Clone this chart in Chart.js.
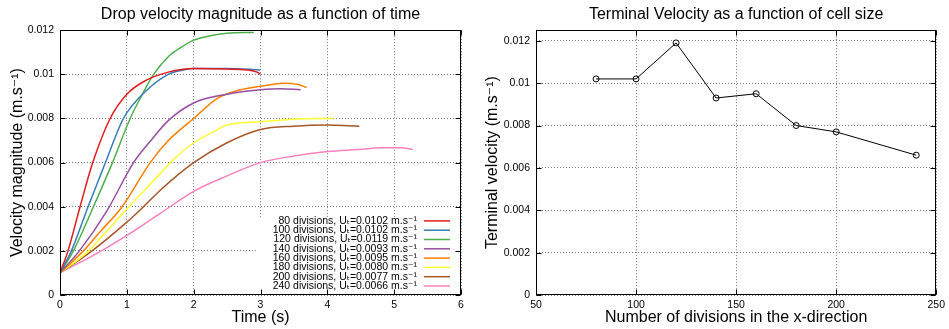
<!DOCTYPE html>
<html>
<head>
<meta charset="utf-8">
<script src="https://cdn.jsdelivr.net/npm/chart.js@4"></script>
<style>
  body { margin: 0; background: #fff; }
  .row { display: flex; width: 949px; height: 329px; }
</style>
</head>
<body>
<div class="row">
  <canvas id="left" width="475" height="329"></canvas>
  <canvas id="right" width="474" height="329"></canvas>
</div>
<script>
// series: number of divisions and the terminal velocity of each run
const divisions = [80, 100, 120, 140, 160, 180, 200, 240];
const terminal = [0.0102, 0.0102, 0.0119, 0.0093, 0.0095, 0.0080, 0.0077, 0.0066];
const colors = ['#e41a1c', '#377eb8', '#4daf4a', '#984ea3', '#ff7f00', '#ffff33', '#a65628', '#f781bf'];

// drop velocity against time
const t80 = [0, 0.12, 0.3, 0.49, 0.75, 1.0, 1.27, 1.62, 2.0, 2.5, 2.8, 2.95, 3.0];
const v80 = [0.001, 0.002, 0.004, 0.006, 0.008, 0.0091, 0.0097, 0.0101, 0.01026, 0.01024, 0.0102, 0.0101, 0.0100];
const t100 = [0, 0.17, 0.42, 0.68, 0.95, 1.27, 1.62, 1.85, 2.0, 2.5, 3.0];
const v100 = [0.001, 0.002, 0.004, 0.006, 0.008, 0.0092, 0.0100, 0.0102, 0.01026, 0.01027, 0.0102];
const t120 = [0, 0.2, 0.5, 0.785, 1.05, 1.25, 1.4, 1.62, 1.8, 2.0, 2.25, 2.5, 2.9];
const v120 = [0.001, 0.002, 0.004, 0.006, 0.008, 0.0092, 0.0100, 0.0108, 0.0112, 0.01155, 0.01175, 0.01186, 0.0119];
const t140 = [0, 0.29, 0.7, 1.1, 1.36, 1.62, 2.0, 2.5, 3.0, 3.3, 3.6];
const v140 = [0.001, 0.002, 0.0038, 0.006, 0.0070, 0.0079, 0.0087, 0.0091, 0.0093, 0.00935, 0.0093];
const t160 = [0, 0.35, 0.61, 0.93, 1.35, 1.62, 2.0, 2.35, 2.7, 3.0, 3.35, 3.55, 3.69];
const v160 = [0.001, 0.002, 0.0029, 0.004, 0.006, 0.0070, 0.008, 0.0089, 0.0093, 0.00946, 0.0096, 0.00955, 0.0094];
const t180 = [0, 0.43, 0.61, 1.03, 1.5, 1.65, 2.0, 2.3, 2.5, 3.0, 3.5, 4.09];
const v180 = [0.001, 0.002, 0.0026, 0.004, 0.0055, 0.006, 0.0069, 0.0074, 0.0077, 0.00785, 0.00797, 0.0080];
const t200 = [0, 0.48, 1.0, 1.25, 1.5, 2.0, 2.5, 3.0, 3.5, 4.0, 4.48];
const v200 = [0.001, 0.002, 0.0033, 0.004, 0.00475, 0.006, 0.0069, 0.0075, 0.00765, 0.0077, 0.00765];
const t240 = [0, 0.62, 1.0, 1.5, 2.0, 2.5, 3.0, 3.5, 4.0, 4.5, 4.8, 5.1, 5.28];
const v240 = [0.001, 0.002, 0.0027, 0.0037, 0.0047, 0.0054, 0.006, 0.0063, 0.0065, 0.0066, 0.00667, 0.00667, 0.0066];

const times = [t80, t100, t120, t140, t160, t180, t200, t240];
const speeds = [v80, v100, v120, v140, v160, v180, v200, v240];

const FONT = "'Liberation Sans', 'DejaVu Sans', sans-serif";

const legendLabels = divisions.map((d, i) => d + ' divisions, Uₜ=' + terminal[i].toFixed(4) + ' m.s⁻¹');

const fmt = v => String(+v.toFixed(4));

// gnuplot look: full border, inward ticks on all sides, optional key box
const frame = {
  id: 'frame',
  beforeDatasetsDraw(chart, args, opts) {
    if (!opts.key) return;
    const { ctx, chartArea: a, scales: { x, y } } = chart;
    ctx.save();
    ctx.fillStyle = '#fff';
    const left = x.getPixelForValue(2.93);
    const top = y.getPixelForValue(0.0035);
    ctx.fillRect(left, top, a.right - left, a.bottom - top);
    ctx.restore();
  },
  afterDraw(chart, args, opts) {
    const { ctx, chartArea: a, scales: { x, y } } = chart;
    ctx.save();
    ctx.strokeStyle = '#000';
    ctx.lineWidth = 1;
    const L = Math.round(a.left) + 0.5, R = Math.round(a.right) - 0.5;
    const T = Math.round(a.top) + 0.5, B = Math.round(a.bottom) - 0.5;
    ctx.strokeRect(L, T, R - L, B - T);
    ctx.beginPath();
    x.ticks.forEach(tk => {
      const px = Math.round(x.getPixelForValue(tk.value)) + 0.5;
      ctx.moveTo(px, B); ctx.lineTo(px, B - 5);
      ctx.moveTo(px, T); ctx.lineTo(px, T + 5);
    });
    y.ticks.forEach(tk => {
      const py = Math.round(y.getPixelForValue(tk.value)) + 0.5;
      ctx.moveTo(L, py); ctx.lineTo(L + 5, py);
      ctx.moveTo(R, py); ctx.lineTo(R - 5, py);
    });
    ctx.stroke();

    if (opts.key) {
      const rowH = 9.3;
      ctx.font = '10.5px ' + FONT;
      ctx.fillStyle = '#000';
      ctx.textAlign = 'right';
      ctx.textBaseline = 'middle';
      chart.data.datasets.forEach((ds, i) => {
        const cy = a.bottom - 9 - (chart.data.datasets.length - 1 - i) * rowH;
        ctx.fillText(ds.label, a.right - 44, cy);
        ctx.strokeStyle = ds.borderColor;
        ctx.lineWidth = 1.5;
        ctx.beginPath();
        ctx.moveTo(a.right - 37, cy);
        ctx.lineTo(a.right - 11, cy);
        ctx.stroke();
      });
    }
    ctx.restore();
  }
};

const grid = { color: '#777', lineWidth: 1, drawTicks: false };
const border = { display: false, dash: [1, 2] };
const tickFont = { family: FONT, size: 10.5 };

const axisTitle = (text, pad) => ({
  display: true, text: text, color: '#000',
  font: { family: FONT, size: 16 }, padding: pad
});

const chartTitle = text => ({
  display: true, fullSize: false, text: text, color: '#000',
  font: { family: FONT, size: 16, weight: 'normal' },
  padding: { top: 5, bottom: 6 }
});

const leftDatasets = divisions.map((d, i) => ({
  label: legendLabels[i],
  data: times[i].map((t, j) => ({ x: t, y: speeds[i][j] })),
  borderColor: colors[i],
  borderWidth: 1.5,
  pointRadius: 0,
  cubicInterpolationMode: 'monotone'
}));

new Chart(document.getElementById('left'), {
  type: 'line',
  data: { datasets: leftDatasets },
  plugins: [frame],
  options: {
    responsive: false,
    animation: false,
    layout: { padding: { right: 14 } },
    plugins: {
      legend: { display: false },
      tooltip: { enabled: false },
      title: chartTitle('Drop velocity magnitude as a function of time'),
      frame: { key: true }
    },
    scales: {
      x: {
        type: 'linear', min: 0, max: 6,
        ticks: { stepSize: 1, color: '#000', font: tickFont, padding: 4, maxRotation: 0, callback: fmt },
        grid: grid, border: border,
        title: axisTitle('Time (s)', { top: 0, bottom: 2 }),
        afterFit: s => { s.height = 34; }
      },
      y: {
        min: 0, max: 0.012,
        ticks: { stepSize: 0.002, color: '#000', font: tickFont, padding: 6, callback: fmt },
        grid: grid, border: border,
        title: axisTitle('Velocity magnitude (m.s⁻¹)', { top: 8, bottom: 0 }),
        afterFit: s => { s.width = 60; }
      }
    }
  }
});

new Chart(document.getElementById('right'), {
  type: 'line',
  data: {
    datasets: [{
      label: 'Terminal velocity',
      data: divisions.map((d, i) => ({ x: d, y: terminal[i] })),
      borderColor: '#000',
      borderWidth: 1,
      pointRadius: 3,
      pointBorderWidth: 1,
      pointBackgroundColor: 'rgba(0,0,0,0)',
      pointBorderColor: '#000'
    }]
  },
  plugins: [frame],
  options: {
    responsive: false,
    animation: false,
    layout: { padding: { right: 12 } },
    plugins: {
      legend: { display: false },
      tooltip: { enabled: false },
      title: chartTitle('Terminal Velocity as a function of cell size'),
      frame: { key: false }
    },
    scales: {
      x: {
        type: 'linear', min: 50, max: 250,
        ticks: { stepSize: 50, color: '#000', font: tickFont, padding: 4, maxRotation: 0 },
        grid: grid, border: border,
        title: axisTitle('Number of divisions in the x-direction', { top: 0, bottom: 2 }),
        afterFit: s => { s.height = 34; }
      },
      y: {
        min: 0, max: 0.0125,
        ticks: { stepSize: 0.002, includeBounds: false, color: '#000', font: tickFont, padding: 6, callback: fmt },
        grid: grid, border: border,
        title: axisTitle('Terminal velocity (m.s⁻¹)', { top: 8, bottom: 0 }),
        afterFit: s => { s.width = 61; }
      }
    }
  }
});
</script>
</body>
</html>
